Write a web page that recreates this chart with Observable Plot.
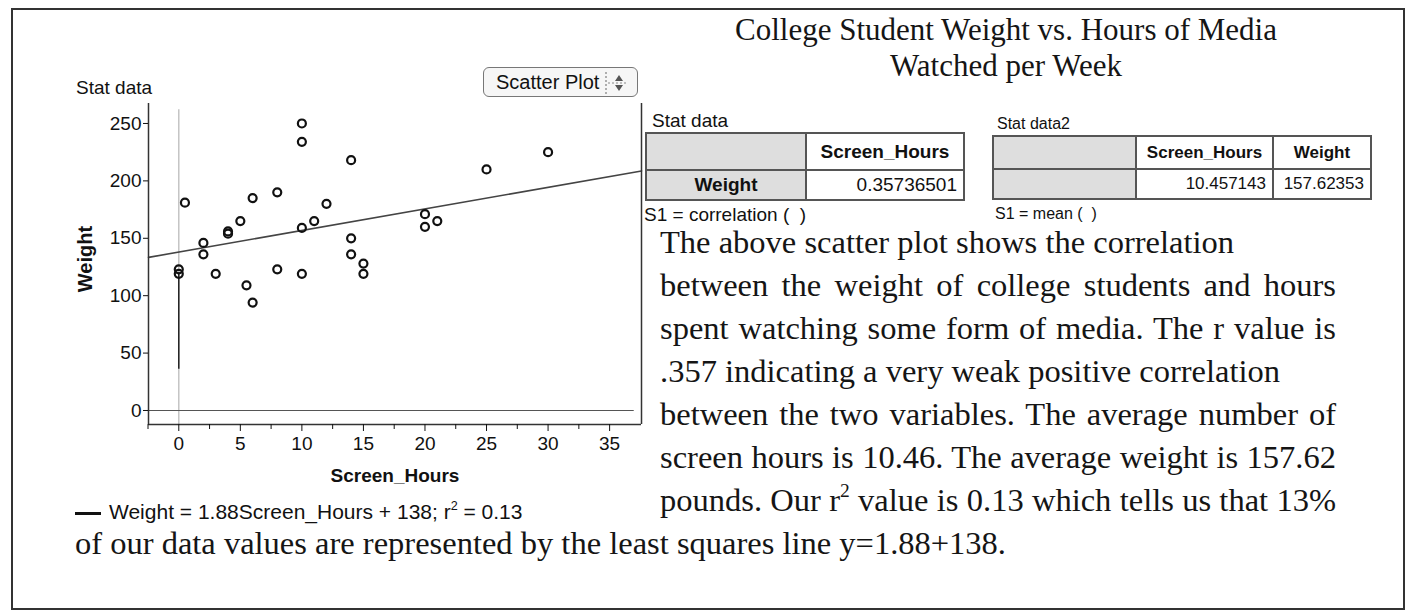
<!DOCTYPE html>
<html><head><meta charset="utf-8">
<script src="https://cdn.jsdelivr.net/npm/d3@7"></script>
<script src="https://cdn.jsdelivr.net/npm/@observablehq/plot@0.6"></script>
<style>
body{margin:0;background:#fff;}
#page{position:relative;width:1414px;height:615px;overflow:hidden;font-family:"Liberation Sans",Arial,sans-serif;color:#111;background:#fff;}
.abs{position:absolute;white-space:nowrap;}
#border{position:absolute;left:11px;top:8px;width:1390px;height:598px;border:2px solid #333;}
.serif{font-family:"Liberation Serif","Times New Roman",serif;color:#151515;}
.pl{position:absolute;left:660px;width:676px;font-size:32.5px;line-height:43px;white-space:nowrap;text-align:justify;text-align-last:justify;}
.pl.nat{text-align:left;text-align-last:left;}
table.st{position:absolute;border-collapse:collapse;font-family:"Liberation Sans",Arial,sans-serif;}
table.st td{border:2px solid #555;padding:0 6px;box-sizing:border-box;}
table.st td.g{background:#dedede;}
table.st td.h{font-weight:bold;text-align:center;}
table.st td.n{text-align:right;}
sup{font-size:60%;line-height:0;vertical-align:0.7em;}
#btn{position:absolute;left:483px;top:67px;width:155px;height:30px;border:1.5px solid #777;border-radius:6px;background:#f6f6f6;box-sizing:border-box;}
</style></head><body><div id="page">
<div id="border"></div>
<div class="abs" style="left:76px;top:77px;font-size:19px;">Stat data</div>
<div id="btn"><span class="abs" style="left:12px;top:3px;font-size:20px;">Scatter Plot</span>
<svg class="abs" style="left:118px;top:3px;" width="30" height="24"><line x1="4" y1="1" x2="4" y2="23" stroke="#666" stroke-dasharray="2,2"/><path d="M13 10 L17 4 L21 10 Z M13 14 L17 20 L21 14 Z" fill="#555"/><line x1="6" y1="12" x2="26" y2="12" stroke="#888" stroke-dasharray="2,2"/></svg></div>
<div id="chart" class="abs" style="left:60px;top:95px;"></div>
<div class="abs" style="left:75px;top:500px;font-size:21px;"><span style="display:inline-block;width:26px;height:3px;background:#111;vertical-align:middle;margin-right:8px;"></span>Weight = 1.88Screen_Hours + 138; r<sup>2</sup> = 0.13</div>
<div class="abs serif" style="left:700px;top:12px;width:612px;text-align:center;font-size:31px;line-height:36px;">College Student Weight vs. Hours of Media<br>Watched per Week</div>
<div class="abs" style="left:652px;top:110px;font-size:19px;">Stat data</div>
<table class="st" style="left:645px;top:132px;font-size:19px;">
<tr style="height:37px;"><td class="g" style="width:160px;"></td><td class="h" style="width:158px;">Screen_Hours</td></tr>
<tr style="height:30px;"><td class="g h">Weight</td><td class="n" id="corr"></td></tr>
</table>
<div class="abs" style="left:644px;top:204px;font-size:19px;">S1 = correlation (&nbsp; )</div>
<div class="abs" style="left:997px;top:115px;font-size:16px;">Stat data2</div>
<table class="st" style="left:992px;top:135px;font-size:17px;">
<tr style="height:33px;"><td class="g" style="width:143px;"></td><td class="h" style="width:137px;">Screen_Hours</td><td class="h" style="width:98px;">Weight</td></tr>
<tr style="height:30px;"><td class="g"></td><td class="n" id="m1"></td><td class="n" id="m2"></td></tr>
</table>
<div class="abs" style="left:995px;top:205px;font-size:16px;">S1 = mean (&nbsp; )</div>
<div class="pl nat serif" style="top:221px;">The above scatter plot shows the correlation</div>
<div class="pl serif" style="top:264px;">between the weight of college students and hours</div>
<div class="pl serif" style="top:307px;">spent watching some form of media. The r value is</div>
<div class="pl nat serif" style="top:350px;">.357 indicating a very weak positive correlation</div>
<div class="pl serif" style="top:393px;">between the two variables. The average number of</div>
<div class="pl serif" style="top:436px;">screen hours is 10.46. The average weight is 157.62</div>
<div class="pl serif" style="top:479px;">pounds. Our r<sup>2</sup> value is 0.13 which tells us that 13%</div>
<div class="abs serif" style="left:75px;top:522px;font-size:32.5px;line-height:43px;">of our data values are represented by the least squares line y=1.88+138.</div>
</div>
<script>
// Scatter data
const screenHours = [0.5, 10, 10, 14, 8, 6, 12, 5, 11, 4, 4, 10, 2, 14, 2, 14, 0, 0, 3, 5.5, 6, 8, 10, 25, 30, 20, 20, 21, 15, 15];
const weight      = [181, 250, 234, 218, 190, 185, 180, 165, 165, 156, 154, 159, 146, 150, 136, 136, 123, 119, 119, 109, 94, 123, 119, 210, 225, 171, 160, 165, 128, 119];
// Least squares line from the legend
const slope = 1.88;
const intercept = 138;
// Axis ticks
const xTicks = [0, 5, 10, 15, 20, 25, 30, 35];
const xMinorTicks = [-2.5, 2.5, 7.5, 12.5, 17.5, 22.5, 27.5, 32.5];
const yTicks = [0, 50, 100, 150, 200, 250];
const xDomain = [-2.46, 37.59];
const yDomain = [-12.2, 267.4];
// Table values
const correlation = "0.35736501";
const meanHours = "10.457143";
const meanWeight = "157.62353";

document.getElementById("corr").textContent = correlation;
document.getElementById("m1").textContent = meanHours;
document.getElementById("m2").textContent = meanWeight;

const points = screenHours.map((x, i) => ({x, y: weight[i]}));
const fitLine = xDomain.map(x => ({x, y: slope * x + intercept}));

const chart = Plot.plot({
  width: 586, height: 404,
  marginLeft: 88, marginTop: 8, marginRight: 5, marginBottom: 75,
  style: {fontFamily: "Liberation Sans, Arial, sans-serif", fontSize: "19px", color: "#111", background: "transparent"},
  x: {domain: xDomain},
  y: {domain: yDomain},
  marks: [
    Plot.ruleX([0], {y1: yDomain[0], y2: 262, stroke: "#c4c4c4", strokeWidth: 1.5}),
    Plot.ruleX([0], {y1: 36, y2: 120, stroke: "#222", strokeWidth: 1.5}),
    Plot.ruleY([0], {x1: xDomain[0], x2: 37, stroke: "#555", strokeWidth: 1.2}),
    Plot.line(fitLine, {x: "x", y: "y", stroke: "#444", strokeWidth: 1.6}),
    Plot.dot(points, {x: "x", y: "y", r: 4, stroke: "#111", strokeWidth: 2.2, fill: "none"}),
    Plot.ruleX([xDomain[0], xDomain[1]], {stroke: "#333", strokeWidth: 1.5}),
    Plot.ruleY([yDomain[0]], {stroke: "#333", strokeWidth: 1.5}),
    Plot.axisY({ticks: yTicks, tickSize: 5, tickPadding: 2, label: null}),
    Plot.axisX({ticks: xTicks, tickSize: 7, tickPadding: 5, label: null}),
    Plot.axisX({ticks: xMinorTicks, tickSize: 5, tickFormat: () => "", label: null}),
    Plot.text(["Weight"], {text: d => d, frameAnchor: "left", textAnchor: "middle", dx: -63, dy: -5, rotate: -90, fontWeight: "bold", fontSize: 20}),
    Plot.text(["Screen_Hours"], {text: d => d, frameAnchor: "bottom", dy: 57, fontWeight: "bold", fontSize: 19})
  ]
});
document.getElementById("chart").appendChild(chart);
</script>
</body></html>
